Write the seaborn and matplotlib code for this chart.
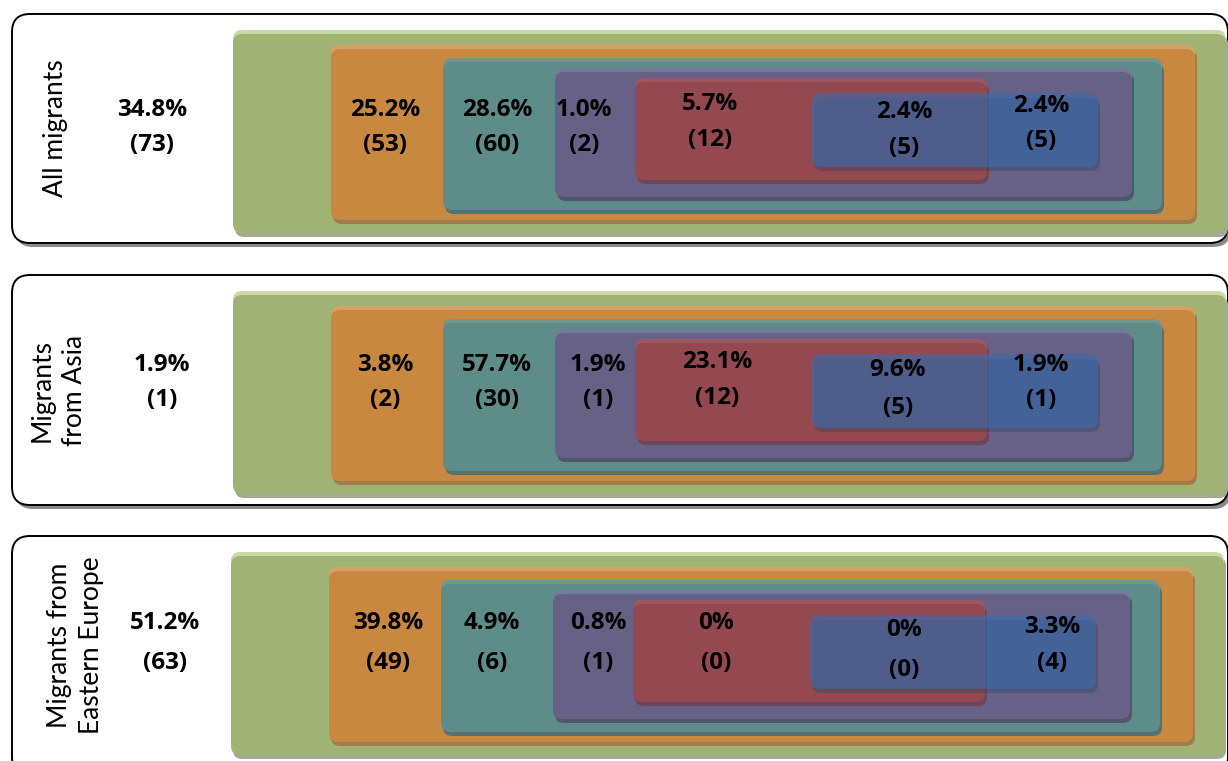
import matplotlib
matplotlib.use("Agg")
import matplotlib.pyplot as plt
from matplotlib.patches import FancyBboxPatch
import seaborn as sns

# ---------------- data ----------------
groups = ["All migrants", "Migrants\nfrom Asia", "Migrants from\nEastern Europe"]
outside_pct = ["34.8%", "1.9%", "51.2%"]
outside_n = [73, 1, 63]
orange_pct = ["25.2%", "3.8%", "39.8%"]
orange_n = [53, 2, 49]
teal_pct = ["28.6%", "57.7%", "4.9%"]
teal_n = [60, 30, 6]
purple_pct = ["1.0%", "1.9%", "0.8%"]
purple_n = [2, 1, 1]
red_pct = ["5.7%", "23.1%", "0%"]
red_n = [12, 12, 0]
blue_left_pct = ["2.4%", "9.6%", "0%"]
blue_left_n = [5, 5, 0]
blue_right_pct = ["2.4%", "1.9%", "3.3%"]
blue_right_n = [5, 1, 4]

# ---------------- layout (pixels) ----------------
W, H = 1228, 761
sns.set_theme(style="white")
plt.rcParams['font.family'] = ['Lato', 'DejaVu Sans']

fig = plt.figure(figsize=(W / 100, H / 100), dpi=100)
ax = fig.add_axes([0, 0, 1, 1])
ax.set_xlim(0, W)
ax.set_ylim(H, 0)
ax.axis("off")

panel_off = [0, 261, 522]
panel_dx = [0, 0, -2]
outer_box = [(12, 1228, 14, 243), (12, 1228, 275, 505), (12, 1228, 536, 775)]

# box rel to panel 1: x0, x1, y0, y1, main, light, shadow, alpha
boxes = [
    (233, 1226, 30, 233, "#A1B374", "#C9DAA6", "#A3AA92", 1.0),
    (331, 1195, 45, 220, "#C9883F", "#D4A364", "#A07D4C", 1.0),
    (443, 1162, 58, 210, "#5E8C89", "#72958D", "#557170", 1.0),
    (555, 1132, 68, 197, "#686186", "#757A9B", "#51566C", 1.0),
    (635, 987, 78, 180, "#93494F", "#9C5763", "#6C4759", 1.0),
    (812, 1098, 93, 167, "#3A6CAC", "#5A80B8", "#2F3E60", 0.62),
]


def rbox(x0, y0, x1, y1, color, alpha=1.0, r=9, z=1):
    p = FancyBboxPatch((x0, y0), x1 - x0, y1 - y0,
                       boxstyle=f"round,pad=0,rounding_size={r}",
                       facecolor=color, edgecolor="none", alpha=alpha, zorder=z)
    ax.add_patch(p)


for i, off in enumerate(panel_off):
    dx = panel_dx[i]
    ox0, ox1, oy0, oy1 = outer_box[i]
    ax.add_patch(FancyBboxPatch((ox0 + 3, oy0 + 4), ox1 - ox0, oy1 - oy0,
                                boxstyle="round,pad=0,rounding_size=18",
                                facecolor="#8a8a8a", edgecolor="none", zorder=0))
    ax.add_patch(FancyBboxPatch((ox0, oy0), ox1 - ox0, oy1 - oy0,
                                boxstyle="round,pad=0,rounding_size=18",
                                facecolor="white", edgecolor="black", lw=1.4, zorder=0.5))
    z = 1
    for (x0, x1, y0, y1, main, light, shadow, a) in boxes:
        X0, X1, Y0, Y1 = x0 + dx, x1 + dx, y0 + off, y1 + off
        if a < 1:
            rbox(X0 + 2, Y0 + 5, X1 + 2, Y1 + 4, shadow, alpha=0.35, z=z)
            rbox(X0, Y0, X1, Y1, main, alpha=a, z=z + 0.2)
        else:
            rbox(X0 + 2, Y0 + 5, X1 + 2, Y1 + 4, shadow, z=z)
            rbox(X0, Y0, X1, Y1 - 3, light, z=z + 0.1)
            rbox(X0, Y0 + 4, X1, Y1, main, z=z + 0.2)
        z += 1

# ---------------- labels ----------------
label_x = [55, 58, 76]
label_y = [128, 390, 645]
for g, lx, ly in zip(groups, label_x, label_y):
    ax.text(lx, ly, g, rotation=90, ha="center", va="center", fontsize=19,
            color="black", linespacing=1.35, zorder=20)

num_font = ['Open Sans', 'DejaVu Sans']
series = [
    (outside_pct, outside_n, [152, 162, 165], [(110, 145), (365, 400), (623, 663)]),
    (orange_pct, orange_n, [385, 385, 388], [(110, 145), (365, 400), (623, 663)]),
    (teal_pct, teal_n, [497, 497, 492], [(110, 145), (365, 400), (623, 663)]),
    (purple_pct, purple_n, [584, 598, 598], [(110, 145), (365, 400), (623, 663)]),
    (red_pct, red_n, [710, 717, 716], [(104, 140), (362, 398), (623, 663)]),
    (blue_left_pct, blue_left_n, [904, 898, 904], [(112, 148), (370, 408), (630, 670)]),
    (blue_right_pct, blue_right_n, [1041, 1041, 1052], [(106, 141), (365, 400), (627, 663)]),
]
for pcts, ns, xs, ys in series:
    for p, n, x, (y1, y2) in zip(pcts, ns, xs, ys):
        ax.text(x, y1, p, ha="center", va="center", fontsize=17.5,
                fontweight="bold", family=num_font, color="black", zorder=20)
        ax.text(x, y2, f"({n})", ha="center", va="center", fontsize=17.5,
                fontweight="bold", family=num_font, color="black", zorder=20)

fig.savefig("out.png", dpi=100)
